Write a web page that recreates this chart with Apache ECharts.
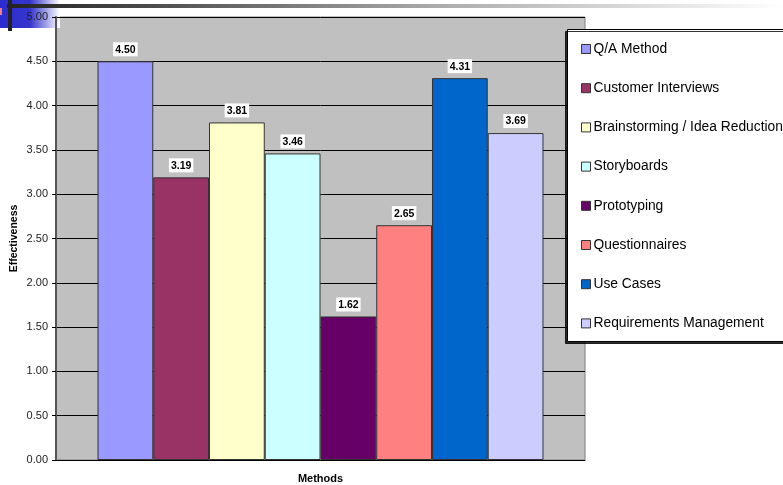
<!DOCTYPE html>
<html>
<head>
<meta charset="utf-8">
<script src="https://cdn.jsdelivr.net/npm/echarts@6/dist/echarts.min.js"></script>
<style>
  html, body { margin: 0; padding: 0; background: #fff; }
  #chart { width: 783px; height: 485px; }
</style>
</head>
<body>
<div id="chart"></div>
<script>
// Requirements elicitation methods and their rated effectiveness
const methods = [
  'Q/A Method',
  'Customer Interviews',
  'Brainstorming / Idea Reduction',
  'Storyboards',
  'Prototyping',
  'Questionnaires',
  'Use Cases',
  'Requirements Management'
];
const effectiveness = [4.50, 3.19, 3.81, 3.46, 1.62, 2.65, 4.31, 3.69];
const barColors = ['#9999FF', '#993366', '#FFFFCC', '#CCFFFF', '#660066', '#FF8080', '#0066CC', '#CCCCFF'];
const yTicks = [0, 0.5, 1, 1.5, 2, 2.5, 3, 3.5, 4, 4.5, 5];

const FONT = '"Liberation Sans", Arial, sans-serif';
const chart = echarts.init(document.getElementById('chart'), null, { renderer: 'canvas' });

const series = methods.map((name, i) => ({
  name: name,
  type: 'bar',
  data: [effectiveness[i]],
  barGap: '0%',
  barCategoryGap: '15.7%',
  itemStyle: { color: barColors[i], borderColor: '#333', borderWidth: 1 },
  label: {
    show: true,
    position: 'top',
    distance: 5,
    formatter: p => p.value.toFixed(2),
    backgroundColor: '#fff',
    padding: [2, 2, 1, 2],
    fontSize: 10.5,
    fontWeight: 'bold',
    color: '#000',
    fontFamily: FONT
  },
  z: 3
}));

chart.setOption({
  animation: false,
  backgroundColor: '#fff',
  textStyle: { fontFamily: FONT },
  grid: {
    left: 56, top: 17, right: 198, bottom: 25,
    containLabel: false,
    outerBoundsMode: 'none',
    show: true,
    backgroundColor: '#C0C0C0',
    borderColor: '#808080',
    borderWidth: 1
  },
  xAxis: {
    type: 'category',
    data: [''],
    name: 'Methods',
    nameLocation: 'middle',
    nameGap: 13,
    nameTextStyle: { fontSize: 11, fontWeight: 'bold', color: '#000', fontFamily: FONT },
    axisLine: { show: true, lineStyle: { color: '#000', width: 1 } },
    axisTick: { show: false },
    axisLabel: { show: false },
    splitLine: { show: false }
  },
  yAxis: {
    type: 'value',
    min: yTicks[0],
    max: yTicks[yTicks.length - 1],
    interval: 0.5,
    name: 'Effectiveness',
    nameLocation: 'middle',
    nameRotate: 90,
    nameGap: 36,
    nameMoveOverlap: false,
    nameTextStyle: { fontSize: 10.5, fontWeight: 'bold', color: '#000', fontFamily: FONT },
    axisLine: { show: true, lineStyle: { color: '#555', width: 2 } },
    axisTick: { show: true, length: 4, lineStyle: { color: '#000' } },
    axisLabel: { fontSize: 11, color: '#222', margin: 8, formatter: v => v.toFixed(2), fontFamily: FONT },
    splitLine: { show: true, lineStyle: { color: '#000', width: 1 } }
  },
  legend: {
    orient: 'vertical',
    left: 581,
    top: 42,
    padding: 0,
    itemWidth: 9,
    itemHeight: 9,
    itemGap: 25.2,
    icon: 'rect',
    itemStyle: { borderColor: '#333', borderWidth: 1 },
    textStyle: { fontSize: 13.8, color: '#000', lineHeight: 14, padding: [0, 0, 0, -2], fontFamily: FONT },
    data: methods,
    z: 10
  },
  graphic: [
    // legend frame, drawn wider than the canvas as in the original slide
    {
      type: 'rect', z: 1,
      shape: { x: 567.5, y: 29.5, width: 240, height: 312 },
      style: { fill: '#fff', stroke: '#000', lineWidth: 1,
               shadowColor: 'rgba(0,0,0,0.8)', shadowOffsetX: -2, shadowOffsetY: 2, shadowBlur: 0 }
    },
    // slide header: blue corner block
    {
      type: 'rect', z: 0,
      shape: { x: 0, y: 0, width: 60, height: 28 },
      style: {
        fill: new echarts.graphic.LinearGradient(0, 0, 1, 0, [
          { offset: 0, color: '#2b2bd0' },
          { offset: 0.5, color: '#3535cc' },
          { offset: 1, color: 'rgba(255,255,255,1)' }
        ])
      }
    },
    // slide header: fading rule across the top
    {
      type: 'rect', z: 0,
      shape: { x: 7, y: 4, width: 776, height: 4 },
      style: {
        fill: new echarts.graphic.LinearGradient(0, 0, 1, 0, [
          { offset: 0, color: '#222' },
          { offset: 0.15, color: '#444' },
          { offset: 0.55, color: '#aaa' },
          { offset: 1, color: '#fff' }
        ])
      }
    },
    // slide header: vertical rule
    {
      type: 'rect', z: 0,
      shape: { x: 8, y: 0, width: 4, height: 31 },
      style: { fill: '#222' }
    },
    {
      type: 'rect', z: 0,
      shape: { x: 0, y: 8, width: 2, height: 7 },
      style: { fill: '#f08080' }
    }
  ],
  series: series
});
</script>
</body>
</html>
